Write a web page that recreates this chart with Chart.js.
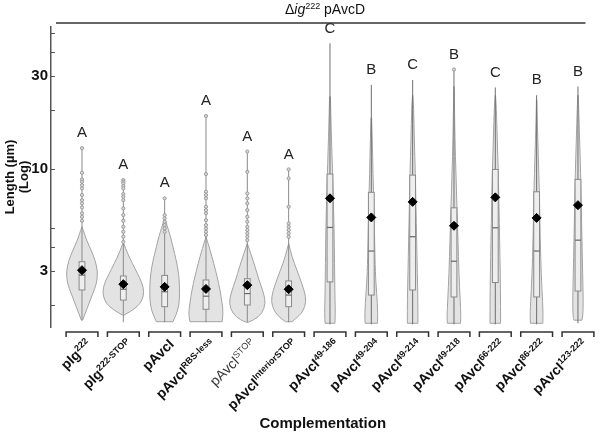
<!DOCTYPE html>
<html lang="en">
<head>
<meta charset="UTF-8">
<title>Chart</title>
<script src="https://cdn.jsdelivr.net/npm/chart.js@4"></script>
<style>
  body { margin: 0; background: #fff; }
</style>
</head>
<body>
<canvas id="chart1" width="600" height="432"></canvas>
<script>
const FONT = "'Liberation Sans', Arial, sans-serif";

// categories: main text, superscript part, bold or not
const categories = ['pIg', 'pIg', 'pAvcI', 'pAvcI', 'pAvcI', 'pAvcI', 'pAvcI', 'pAvcI', 'pAvcI', 'pAvcI', 'pAvcI', 'pAvcI', 'pAvcI'];
const catSup = ['222', '222-STOP', '', 'RBS-less', 'STOP', 'InteriorSTOP', '49-186', '49-204', '49-214', '49-218', '66-222', '86-222', '123-222'];
const catBold = [true, true, true, true, false, true, true, true, true, true, true, true, true];
const letters = ['A', 'A', 'A', 'A', 'A', 'A', 'C', 'B', 'C', 'B', 'C', 'B', 'B'];

// summary stats (µm)
const mins    = [1.68, 1.64, 1.64, 1.64, 1.64, 1.64, 1.6, 1.6, 1.6, 1.6, 1.6, 1.6, 1.62];
const q1s     = [2.40, 2.13, 1.97, 1.91, 2.01, 1.97, 2.64, 2.26, 2.40, 2.21, 2.62, 2.21, 2.37];
const medians = [2.86, 2.42, 2.35, 2.23, 2.30, 2.26, 5.02, 3.80, 4.50, 3.37, 5.00, 3.80, 4.32];
const q3s     = [3.35, 2.83, 2.85, 2.70, 2.74, 2.67, 9.43, 7.60, 9.31, 6.33, 9.96, 7.65, 8.85];
const maxs    = [12.8, 8.78, 7.08, 18.7, 12.3, 9.96, 44.1, 27.0, 28.6, 32.4, 26.2, 23.9, 26.5];
const means   = [3.03, 2.57, 2.49, 2.43, 2.54, 2.42, 7.08, 5.65, 6.79, 5.12, 7.16, 5.62, 6.53];

// violin outlines: [length, half width in category units], top to bottom
const profiles = [
  [[5.06, 0], [4.87, 0.03], [4.32, 0.11], [3.84, 0.22], [3.41, 0.32], [2.97, 0.38], [2.59, 0.355], [2.30, 0.26], [1.97, 0.14], [1.68, 0.015]],
  [[4.16, 0.01], [3.70, 0.1], [3.28, 0.22], [2.92, 0.34], [2.59, 0.46], [2.35, 0.5], [2.13, 0.46], [1.97, 0.34], [1.85, 0.15], [1.78, 0.01]],
  [[5.6, 0], [4.68, 0.12], [4.0, 0.2], [3.41, 0.28], [2.92, 0.34], [2.49, 0.36], [2.13, 0.36], [1.89, 0.32], [1.72, 0.24], [1.65, 0.2]],
  [[4.5, 0], [3.84, 0.1], [3.28, 0.19], [2.8, 0.27], [2.4, 0.34], [2.05, 0.39], [1.82, 0.42], [1.65, 0.39]],
  [[4.16, 0], [3.70, 0.08], [3.15, 0.19], [2.7, 0.28], [2.3, 0.4], [2.05, 0.44], [1.82, 0.36], [1.68, 0.16], [1.64, 0.02]],
  [[4.16, 0], [3.55, 0.08], [3.03, 0.2], [2.59, 0.32], [2.21, 0.42], [1.97, 0.4], [1.78, 0.28], [1.65, 0.08]],
  [[23.5, 0.01], [15.85, 0.03], [10.7, 0.055], [7.21, 0.08], [4.87, 0.1], [3.28, 0.11], [2.21, 0.12], [1.82, 0.13], [1.62, 0.12]],
  [[18.3, 0.007], [14.1, 0.024], [9.5, 0.04], [6.4, 0.065], [4.32, 0.08], [2.93, 0.097], [2.3, 0.13], [1.82, 0.16], [1.62, 0.15]],
  [[23.9, 0.005], [20.8, 0.024], [14.1, 0.04], [9.5, 0.065], [6.41, 0.08], [4.32, 0.097], [2.93, 0.113], [2.13, 0.128], [1.62, 0.128]],
  [[26.5, 0.005], [14.1, 0.024], [9.5, 0.048], [6.41, 0.072], [4.32, 0.097], [2.93, 0.12], [2.13, 0.15], [1.75, 0.17], [1.62, 0.16]],
  [[23.9, 0.005], [20.8, 0.024], [14.1, 0.048], [9.5, 0.072], [6.41, 0.09], [4.32, 0.104], [2.93, 0.12], [1.97, 0.128], [1.62, 0.128]],
  [[22.6, 0.005], [17.2, 0.017], [11.6, 0.04], [7.8, 0.065], [5.28, 0.08], [3.55, 0.097], [2.4, 0.128], [1.83, 0.16], [1.62, 0.15]],
  [[23.9, 0.005], [20.8, 0.017], [14.1, 0.04], [9.5, 0.065], [6.41, 0.08], [4.32, 0.097], [2.93, 0.113], [2.13, 0.128], [1.75, 0.12], [1.68, 0.097]]
];

// outlying cells drawn as circles
const outliers = [
  [12.8, 9.57, 8.85, 8.61, 8.27, 7.96, 7.36, 6.93, 6.67, 6.36, 5.93, 5.69, 5.43],
  [8.78, 8.61, 8.45, 8.18, 7.96, 7.44, 7.21, 6.93, 6.29, 5.81, 5.43, 5.06, 4.77, 4.5, 4.24],
  [7.08, 5.81, 5.59, 5.37, 5.16, 4.96, 4.77],
  [18.7, 9.43, 7.65, 7.36, 7.08, 6.41, 6.16, 5.93, 5.47, 5.16, 4.96, 4.77, 4.59],
  [12.3, 9.68, 7.5, 7.08, 6.67, 6.16, 5.69, 5.37, 5.06, 4.87, 4.68, 4.5, 4.32],
  [9.96, 8.96, 6.41, 5.26, 5.06, 4.87, 4.68, 4.5],
  [], [], [], [32.4], [], [], []
];

const yTicks = [2, 3, 4, 5, 10, 20, 30, 40, 50];
const yLabelled = [3, 10, 30];

const outlierPoints = [];
outliers.forEach((arr, i) => arr.forEach(v => outlierPoints.push({x: i, y: v})));

function smoothSide(ctx, pts, first) {
    if (first) ctx.moveTo(pts[0][0], pts[0][1]); else ctx.lineTo(pts[0][0], pts[0][1]);
    for (let k = 1; k < pts.length - 1; k++) {
        const mx = (pts[k][0] + pts[k + 1][0]) / 2, my = (pts[k][1] + pts[k + 1][1]) / 2;
        ctx.quadraticCurveTo(pts[k][0], pts[k][1], mx, my);
    }
    const last = pts[pts.length - 1];
    ctx.lineTo(last[0], last[1]);
}

const violinPlugin = {
    id: 'violins',
    beforeDatasetsDraw(chart) {
        const {ctx, scales: {x, y}} = chart;
        ctx.save();
        profiles.forEach((prof, i) => {
            const left = prof.map(p => [x.getPixelForValue(i - p[1]), y.getPixelForValue(p[0])]);
            const right = prof.map(p => [x.getPixelForValue(i + p[1]), y.getPixelForValue(p[0])]).reverse();
            ctx.beginPath();
            smoothSide(ctx, left, true);
            smoothSide(ctx, right, false);
            ctx.closePath();
            ctx.fillStyle = '#e3e3e3';
            ctx.fill();
            ctx.strokeStyle = '#a3a3a3';
            ctx.lineWidth = 1;
            ctx.stroke();

            const cx = x.getPixelForValue(i);
            ctx.beginPath();
            ctx.moveTo(cx, y.getPixelForValue(mins[i]));
            ctx.lineTo(cx, y.getPixelForValue(maxs[i]));
            ctx.strokeStyle = i >= 6 ? '#6e6e6e' : '#8a8a8a';
            ctx.stroke();

            const bx0 = x.getPixelForValue(i - 0.07), bx1 = x.getPixelForValue(i + 0.07);
            const by0 = y.getPixelForValue(q3s[i]), by1 = y.getPixelForValue(q1s[i]);
            ctx.fillStyle = '#eeeeee';
            ctx.fillRect(bx0, by0, bx1 - bx0, by1 - by0);
            ctx.strokeStyle = '#8a8a8a';
            ctx.strokeRect(bx0, by0, bx1 - bx0, by1 - by0);

            const my = y.getPixelForValue(medians[i]);
            ctx.beginPath();
            ctx.moveTo(bx0, my);
            ctx.lineTo(bx1, my);
            ctx.strokeStyle = '#666';
            ctx.lineWidth = 1.2;
            ctx.stroke();
        });
        ctx.restore();
    },
    afterDraw(chart) {
        const {ctx, chartArea, scales: {x, y}} = chart;
        ctx.save();

        // inner tick marks on the y axis
        ctx.strokeStyle = '#555';
        ctx.lineWidth = 1;
        y.ticks.forEach(t => {
            const py = Math.round(y.getPixelForValue(t.value)) + 0.5;
            ctx.beginPath();
            ctx.moveTo(y.right, py);
            ctx.lineTo(y.right + 4, py);
            ctx.stroke();
        });

        // significance letters
        ctx.fillStyle = '#222';
        ctx.font = '15px ' + FONT;
        ctx.textAlign = 'center';
        ctx.textBaseline = 'middle';
        letters.forEach((l, i) => {
            ctx.fillText(l, x.getPixelForValue(i), y.getPixelForValue(maxs[i]) - 15);
        });

        // brackets under each group
        const bTop = chartArea.bottom + 5;
        ctx.strokeStyle = '#333';
        ctx.lineWidth = 1.5;
        categories.forEach((c, i) => {
            const x0 = x.getPixelForValue(i - 0.385), x1 = x.getPixelForValue(i + 0.385);
            ctx.beginPath();
            ctx.moveTo(x0, bTop + 5);
            ctx.lineTo(x0, bTop);
            ctx.lineTo(x1, bTop);
            ctx.lineTo(x1, bTop + 5);
            ctx.stroke();
        });

        // rotated category labels with superscripts
        categories.forEach((c, i) => {
            const w = catBold[i] ? 'bold ' : '';
            ctx.save();
            ctx.translate(x.getPixelForValue(i) + 10, chartArea.bottom + 18);
            ctx.rotate(-Math.PI / 4);
            ctx.textAlign = 'left';
            ctx.textBaseline = 'alphabetic';
            ctx.fillStyle = catBold[i] ? '#111' : '#3a3a3a';
            ctx.font = w + '14px ' + FONT;
            const wMain = ctx.measureText(c).width;
            ctx.font = w + '9px ' + FONT;
            const wSup = ctx.measureText(catSup[i]).width;
            ctx.font = w + '14px ' + FONT;
            ctx.fillText(c, -(wMain + wSup), 0);
            ctx.font = w + '9px ' + FONT;
            ctx.fillText(catSup[i], -wSup, -5);
            ctx.restore();
        });

        // x title
        ctx.fillStyle = '#111';
        ctx.font = 'bold 15px ' + FONT;
        ctx.textAlign = 'center';
        ctx.textBaseline = 'middle';
        ctx.fillText('Complementation', (chartArea.left + chartArea.right) / 2, 424);

        // strain header and line
        ctx.strokeStyle = '#333';
        ctx.lineWidth = 1.5;
        ctx.beginPath();
        ctx.moveTo(chartArea.left + 5, 23);
        ctx.lineTo(chartArea.right - 9, 23);
        ctx.stroke();

        const parts = [['Δ', '14px ', 0], ['ig', 'italic 14px ', 0], ['222', '9px ', -5], [' pAvcD', '14px ', 0]];
        let total = 0;
        parts.forEach(p => { ctx.font = p[1] + FONT; total += ctx.measureText(p[0]).width; });
        let tx = 325 - total / 2;
        ctx.textAlign = 'left';
        ctx.textBaseline = 'alphabetic';
        ctx.fillStyle = '#111';
        parts.forEach(p => {
            ctx.font = p[1] + FONT;
            ctx.fillText(p[0], tx, 14 + p[2]);
            tx += ctx.measureText(p[0]).width;
        });
        ctx.restore();
    }
};

new Chart("chart1", {
    type: "scatter",
    data: {
        datasets: [{
            label: "Mean",
            data: means.map((m, i) => ({x: i, y: m})),
            pointStyle: 'rectRot',
            pointRadius: 4.5,
            backgroundColor: '#000',
            borderColor: '#000',
            borderWidth: 1,
            order: 0
        }, {
            label: "Outliers",
            data: outlierPoints,
            pointStyle: 'circle',
            pointRadius: 1.6,
            backgroundColor: '#d9d9d9',
            borderColor: '#9a9a9a',
            borderWidth: 1,
            order: 1
        }]
    },
    options: {
        responsive: false,
        animation: false,
        layout: {
            padding: {top: 27, bottom: 105, right: 5, left: 0}
        },
        plugins: {
            legend: {display: false},
            tooltip: {enabled: false}
        },
        scales: {
            x: {
                type: 'linear',
                display: false,
                min: -0.75,
                max: 12.4
            },
            y: {
                type: 'logarithmic',
                min: 1.55,
                max: 53.5,
                afterBuildTicks: axis => { axis.ticks = yTicks.map(v => ({value: v})); },
                afterFit: axis => { axis.width = 51; },
                border: {display: true, color: '#555', width: 1.5},
                grid: {display: true, drawOnChartArea: false, drawTicks: false},
                ticks: {
                    padding: 3,
                    color: '#111',
                    font: {family: FONT, size: 15, weight: 'bold'},
                    callback: v => yLabelled.includes(v) ? String(v) : ''
                },
                title: {
                    display: true,
                    text: ['Length (µm)', '(Log)'],
                    color: '#111',
                    font: {family: FONT, size: 13, weight: 'bold', lineHeight: 1.1},
                    padding: {top: 3, bottom: 0}
                }
            }
        }
    },
    plugins: [violinPlugin]
});
</script>
</body>
</html>
